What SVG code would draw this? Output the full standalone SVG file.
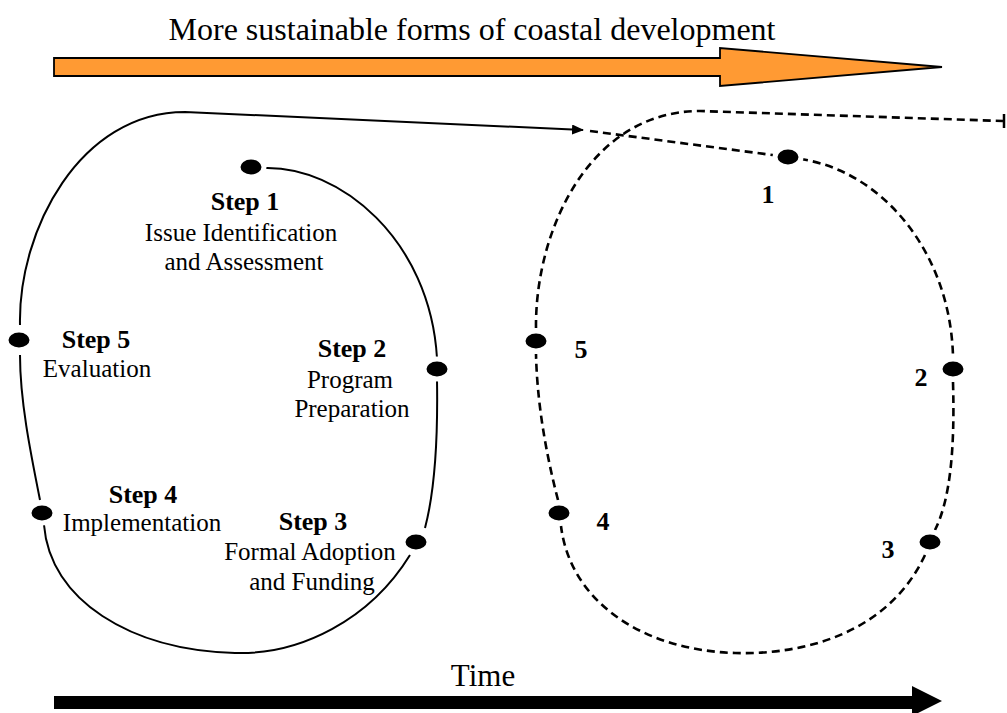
<svg xmlns="http://www.w3.org/2000/svg" width="1007" height="713" viewBox="0 0 1007 713">
<style>
.t{font-family:"Liberation Serif","Times New Roman",serif;fill:#000;text-anchor:middle}
.s{font-size:26px;font-weight:bold}
.d{font-size:25px}
.n{font-size:26px;font-weight:bold}
.solid{fill:none;stroke:#000;stroke-width:2}
.dash{fill:none;stroke:#000;stroke-width:2.6;stroke-dasharray:8 5}
.dot{fill:#000;stroke:#fff;stroke-width:5}
</style>
<defs>
<marker id="ah" viewBox="0 0 12 10" refX="11" refY="5" markerWidth="12" markerHeight="10" markerUnits="userSpaceOnUse" orient="auto">
<path d="M0,0 L12,5 L0,10 Z" fill="#000"/>
</marker>
</defs>
<rect width="1007" height="713" fill="#fff"/>
<g id="title">
<text class="t" x="472" y="40" font-size="32">More sustainable forms of coastal development</text>
<path d="M54,58 L720,58 L720,48 L942,67 L720,86 L720,76 L54,76 Z" fill="#FF9A33" stroke="#000" stroke-width="1.8"/>
</g>
<g id="time">
<text class="t" x="483" y="686" font-size="31">Time</text>
<path d="M54,696 L912,696 L912,686 L942,701 L912,716 L912,709 L54,709 Z" fill="#000"/>
</g>
<g id="connectors">
<path class="solid" d="M263,168 C340,165 430,240 437,358"/>
<path class="solid" d="M437,380 C438,440 435,490 425,528"/>
<path class="solid" d="M410,555 C370,620 300,655 235,653 C130,650 50,600 44,525"/>
<path class="solid" d="M40,500 C30,450 20,400 20,355"/>
<path class="solid" d="M20,325 C18,230 80,112 185,112 L583,130" marker-end="url(#ah)"/>
<path class="dash" d="M590,131 L780,156"/>
<path class="dash" d="M800,159 C880,170 950,250 953,356"/>
<path class="dash" d="M953,382 C955,450 950,500 935,530"/>
<path class="dash" d="M925,555 C890,630 810,655 735,653 C640,650 570,600 561,526"/>
<path class="dash" d="M558,500 C545,450 537,400 536,354"/>
<path class="dash" d="M536,328 C535,230 590,111 700,111 L1003,121"/>
<path d="M1004,114 L1004,128" stroke="#000" stroke-width="2.5"/>
</g>
<g id="step1">
<ellipse class="dot" cx="251" cy="167" rx="13" ry="10"/>
<text class="t s" x="245" y="210">Step 1</text>
<text class="t d" x="241" y="241">Issue Identification</text>
<text class="t d" x="244" y="270">and Assessment</text>
</g>
<g id="step2">
<ellipse class="dot" cx="437" cy="369" rx="13" ry="10"/>
<text class="t s" x="352" y="357">Step 2</text>
<text class="t d" x="350" y="388">Program</text>
<text class="t d" x="352" y="417">Preparation</text>
</g>
<g id="step3">
<ellipse class="dot" cx="416" cy="542" rx="13" ry="10"/>
<text class="t s" x="313" y="530">Step 3</text>
<text class="t d" x="310" y="560">Formal Adoption</text>
<text class="t d" x="312" y="590">and Funding</text>
</g>
<g id="step4">
<ellipse class="dot" cx="42" cy="513" rx="13" ry="10"/>
<text class="t s" x="143" y="503">Step 4</text>
<text class="t d" x="142" y="531">Implementation</text>
</g>
<g id="step5">
<ellipse class="dot" cx="19" cy="340" rx="13" ry="10"/>
<text class="t s" x="96" y="348">Step 5</text>
<text class="t d" x="97" y="377">Evaluation</text>
</g>
<g id="n1">
<ellipse class="dot" cx="788" cy="157" rx="13" ry="10"/>
<text class="t n" x="768" y="203">1</text>
</g>
<g id="n2">
<ellipse class="dot" cx="953" cy="369" rx="13" ry="10"/>
<text class="t n" x="921" y="386">2</text>
</g>
<g id="n3">
<ellipse class="dot" cx="930" cy="542" rx="13" ry="10"/>
<text class="t n" x="888" y="558">3</text>
</g>
<g id="n4">
<ellipse class="dot" cx="559" cy="513" rx="13" ry="10"/>
<text class="t n" x="603" y="530">4</text>
</g>
<g id="n5">
<ellipse class="dot" cx="536" cy="341" rx="13" ry="10"/>
<text class="t n" x="581" y="358">5</text>
</g>
</svg>
